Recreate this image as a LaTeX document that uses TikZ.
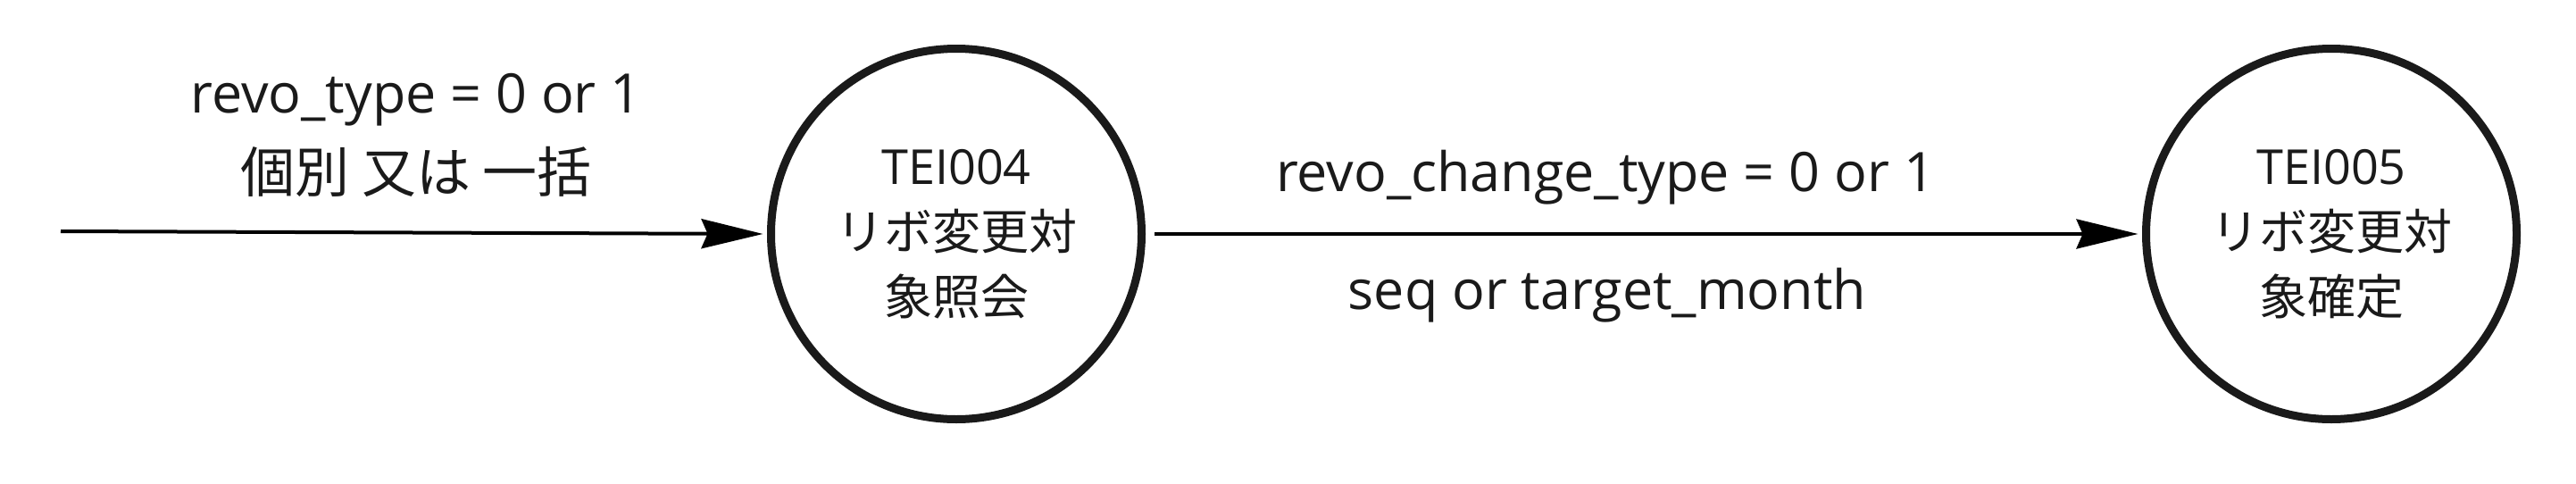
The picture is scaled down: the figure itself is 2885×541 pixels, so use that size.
\documentclass[tikz,border=0pt]{standalone}
\usepackage{fontspec}
\setmainfont{Open Sans}
\newfontfamily\jp{Noto Sans CJK JP}
\usetikzlibrary{arrows.meta}
\definecolor{ink}{HTML}{1A1A1A}
\tikzset{
  state/.style={circle, draw=ink, line width=4.5pt, minimum size=207.5pt, inner sep=0pt,
    align=center, text=ink, font=\fontsize{27}{36.5}\selectfont},
  flow/.style={line width=2pt, draw=black, shorten >=2.25pt,
    -{Stealth[length=34.5pt,width=16.5pt,inset=3.5pt]}},
  lbl/.style={align=center, text=ink, font=\fontsize{30.5}{42}\selectfont, inner sep=0pt}
}
\begin{document}
\begin{tikzpicture}[x=0.5pt,y=-0.5pt]
\useasboundingbox (0,0) rectangle (2885,541);
\node[state] (s1) at (1071,262) {TEI004\\{\jp リボ変更対}\\{\jp 象照会}};
\node[state] (s2) at (2611,262) {TEI005\\{\jp リボ変更対}\\{\jp 象確定}};
\coordinate (start) at (68,259);
\draw[flow] (start) -- (s1.west);
\draw[flow, shorten <=5pt] (s1.east) -- (s2.west);
\node[lbl] (l1) at (466,112) {revo\_type = 0 or 1};
\node[lbl] (l2) at (466,192) {\jp 個別 又は 一括};
\node[lbl] (l3) at (1798,199) {revo\_change\_type = 0 or 1};
\node[lbl] (l4) at (1800,331) {seq or target\_month};
\end{tikzpicture}
\end{document}
